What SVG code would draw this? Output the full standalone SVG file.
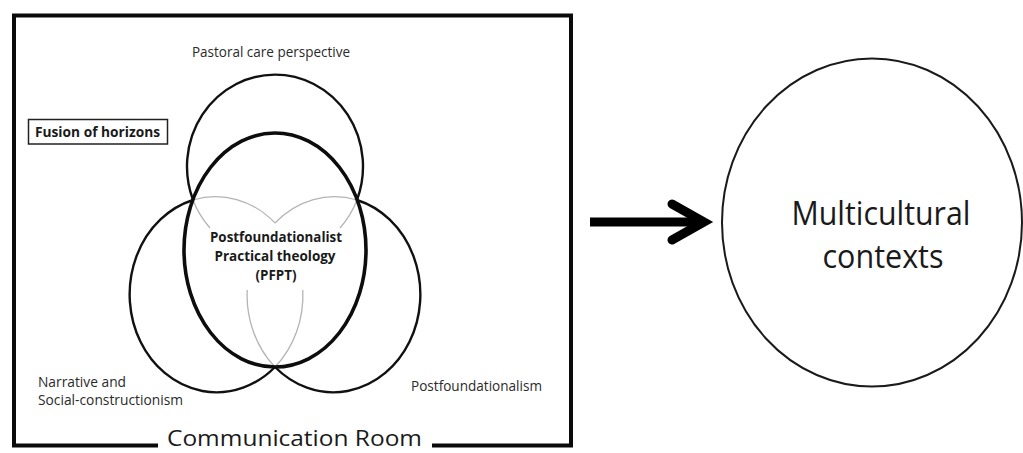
<svg xmlns="http://www.w3.org/2000/svg" width="1023" height="453" viewBox="0 0 1023 453">
  <style>
    .lbl { font-family: "Open Sans", "Noto Sans", "DejaVu Sans", sans-serif; fill: #2a2a2a; font-size: 14px; }
    .title { font-family: "Open Sans", "Noto Sans", "DejaVu Sans", sans-serif; fill: #1a1a1a; font-size: 22px; }
    .bold { font-family: "Open Sans", "Noto Sans", "DejaVu Sans", sans-serif; fill: #1a1a1a; font-weight: bold; font-size: 15px; }
    .big { font-family: "Open Sans", "Noto Sans", "DejaVu Sans", sans-serif; fill: #1a1a1a; font-size: 32px; }
    .ring { fill: none; stroke: #111; stroke-width: 2.4; }
    .core { fill: none; stroke: #0d0d0d; stroke-width: 3.6; }
    .faint { fill: none; stroke: #b4b4b4; stroke-width: 1.3; }
  </style>

  <rect width="1023" height="453" fill="#fff"/>

  <!-- Communication Room frame, bottom edge broken by its title -->
  <g id="communication-room">
    <path d="M158,445.5 H14 V15.5 H571 V445.5 H432" fill="none" stroke="#0a0a0a" stroke-width="4"/>
    <text class="title" x="167" y="446" textLength="255" lengthAdjust="spacingAndGlyphs">Communication Room</text>
  </g>

  <g id="fusion-of-horizons">
    <rect x="28.5" y="119.5" width="139" height="24.5" fill="#fff" stroke="#222" stroke-width="1.5"/>
    <text class="bold" x="35" y="137" textLength="125" lengthAdjust="spacingAndGlyphs">Fusion of horizons</text>
  </g>

  <!-- Pastoral care perspective circle -->
  <g id="pastoral-care">
    <path class="ring" d="M193,200 A88,92 0 1,1 357,200"/>
    <path class="faint" d="M193,200 A88,92 0 0,0 210,228"/>
    <path class="faint" d="M357,200 A88,92 0 0,1 340,228"/>
    <text class="lbl" x="192" y="57" textLength="158" lengthAdjust="spacingAndGlyphs">Pastoral care perspective</text>
  </g>

  <!-- Narrative and social-constructionism circle -->
  <g id="narrative">
    <path class="ring" d="M193,200 A87,98 0 1,0 275,367"/>
    <path class="faint" d="M193,200 A87,98 0 0,1 275,223"/>
    <path class="faint" d="M302.8,290 A87,98 0 0,1 275,367"/>
    <text class="lbl" x="38" y="387" textLength="88" lengthAdjust="spacingAndGlyphs">Narrative and</text>
    <text class="lbl" x="38" y="405" textLength="145" lengthAdjust="spacingAndGlyphs">Social-constructionism</text>
  </g>

  <!-- Postfoundationalism circle -->
  <g id="postfoundationalism">
    <path class="ring" d="M357,200 A87,98 0 1,1 275,367"/>
    <path class="faint" d="M357,200 A87,98 0 0,0 275,223"/>
    <path class="faint" d="M247.2,290 A87,98 0 0,0 275,367"/>
    <text class="lbl" x="411" y="391" textLength="131" lengthAdjust="spacingAndGlyphs">Postfoundationalism</text>
  </g>

  <!-- Central PFPT ellipse -->
  <g id="pfpt">
    <ellipse class="core" cx="275" cy="250" rx="91" ry="117"/>
    <text class="bold" x="276" y="242" text-anchor="middle" textLength="132" lengthAdjust="spacingAndGlyphs">Postfoundationalist</text>
    <text class="bold" x="275" y="261" text-anchor="middle" textLength="121" lengthAdjust="spacingAndGlyphs">Practical theology</text>
    <text class="bold" x="276" y="280" text-anchor="middle" textLength="41" lengthAdjust="spacingAndGlyphs">(PFPT)</text>
  </g>

  <!-- Multicultural contexts -->
  <g id="multicultural-contexts">
    <ellipse cx="872" cy="222.5" rx="150" ry="164" fill="none" stroke="#1a1a1a" stroke-width="2"/>
    <text class="big" x="881" y="225" text-anchor="middle" textLength="179" lengthAdjust="spacingAndGlyphs">Multicultural</text>
    <text class="big" x="883" y="268" text-anchor="middle" textLength="121" lengthAdjust="spacingAndGlyphs">contexts</text>
  </g>

  <!-- connectors -->
  <g id="connectors" fill="none" stroke="#000" stroke-width="9">
    <path d="M590,222 H700" stroke-linecap="butt"/>
    <path d="M672,204 L704,222 L672,240" stroke-linecap="round" stroke-linejoin="miter"/>
  </g>
</svg>
